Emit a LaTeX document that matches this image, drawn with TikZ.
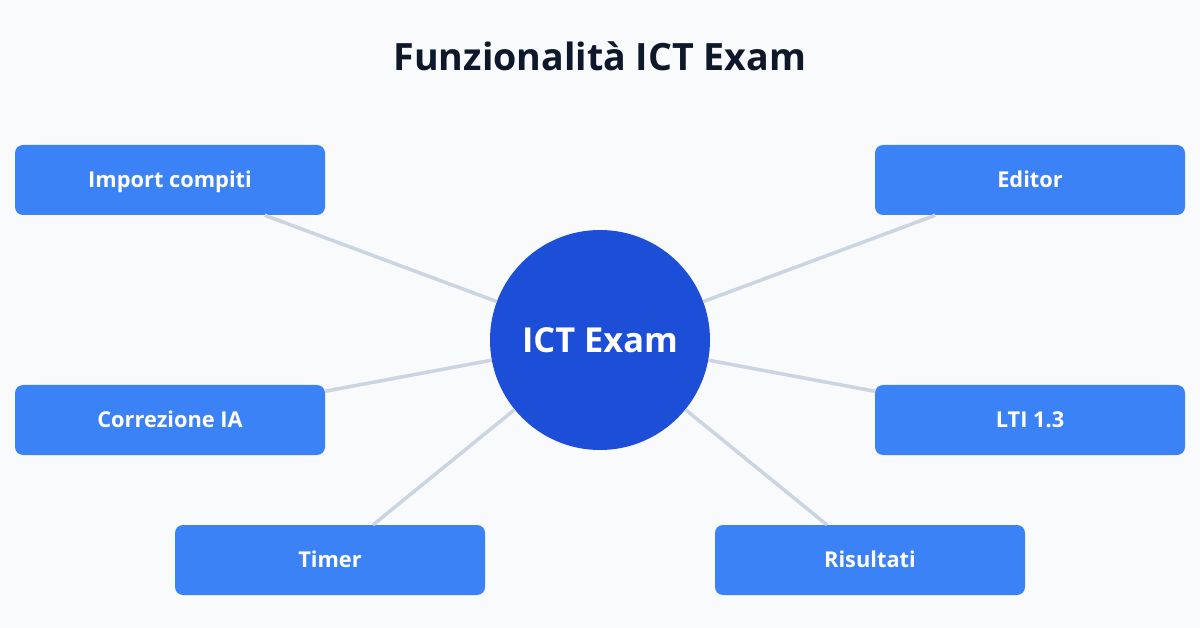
\documentclass[tikz,border=0pt]{standalone}
\usepackage{fontspec}
\setmainfont{Open Sans}
\definecolor{bgpage}{HTML}{F8FAFC}
\definecolor{titleink}{HTML}{0F172A}
\definecolor{hubblue}{HTML}{1D4ED8}
\definecolor{boxblue}{HTML}{3B82F6}
\definecolor{linkgray}{HTML}{CBD5E1}
\tikzstyle{feature}=[fill=boxblue,rounded corners=8pt,minimum width=310pt,minimum height=70pt,inner sep=0pt,text height=15.5pt,text depth=0pt,text=white,font=\fontsize{21.8}{26}\selectfont\bfseries]
\tikzstyle{hub}=[fill=hubblue,circle,minimum size=220pt,inner sep=0pt,text=white,font=\fontsize{34.4}{40}\selectfont\bfseries]
\tikzstyle{link}=[draw=linkgray,line width=3.5pt]

\begin{document}
\begin{tikzpicture}[x=1pt,y=-1pt]
    \fill[bgpage] (0,0) rectangle (1200,628);
    \useasboundingbox (0,0) rectangle (1200,628);
    \node (title)[text=titleink,font=\fontsize{37.6}{44}\selectfont\bfseries] at (600,56) {Funzionalità ICT Exam};
    \node (hub)[hub] at (600,340) {ICT Exam};
    \node (import)[feature] at (170,180) {Import compiti};
    \node (editor)[feature] at (1030,180) {Editor};
    \node (corr)[feature] at (170,420) {Correzione IA};
    \node (lti)[feature] at (1030,420) {LTI 1.3};
    \node (timer)[feature] at (330,560) {Timer};
    \node (res)[feature] at (870,560) {Risultati};
    \path[link] (import) edge (hub);
    \path[link] (editor) edge (hub);
    \path[link] (corr)   edge (hub);
    \path[link] (lti)    edge (hub);
    \path[link] (timer)  edge (hub);
    \path[link] (res)    edge (hub);
\end{tikzpicture}
\end{document}
